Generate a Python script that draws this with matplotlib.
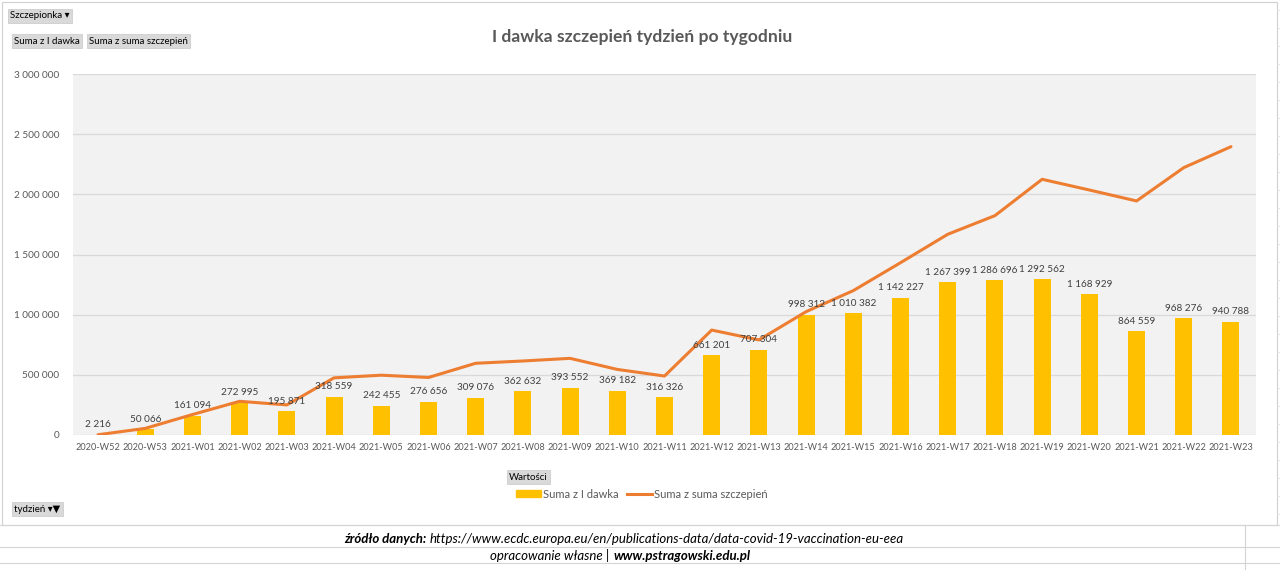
import matplotlib
matplotlib.use("Agg")
import matplotlib.pyplot as plt
from matplotlib.patches import Patch
from matplotlib.lines import Line2D
import numpy as np

plt.rcParams["font.family"] = ["Lato", "DejaVu Sans"]

weeks = ["2020-W52", "2020-W53", "2021-W01", "2021-W02", "2021-W03", "2021-W04",
         "2021-W05", "2021-W06", "2021-W07", "2021-W08", "2021-W09", "2021-W10",
         "2021-W11", "2021-W12", "2021-W13", "2021-W14", "2021-W15", "2021-W16",
         "2021-W17", "2021-W18", "2021-W19", "2021-W20", "2021-W21", "2021-W22",
         "2021-W23"]
first_dose = [2216, 50066, 161094, 272995, 195871, 318559, 242455, 276656, 309076,
              362632, 393552, 369182, 316326, 661201, 707304, 998312, 1010382,
              1142227, 1267399, 1286696, 1292562, 1168929, 864559, 968276, 940788]
# (brak etykiet)
all_doses = [2216, 55000, 170000, 280000, 250000, 475000, 497000, 478000, 596000,
             615000, 637000, 545000, 490000, 872000, 790000, 1025000, 1200000,
             1432000, 1668000, 1823000, 2125000, 2036000, 1945000, 2222000, 2396000]
yticks = [0, 500000, 1000000, 1500000, 2000000, 2500000, 3000000]

BAR = "#FFC000"
LINE = "#ED7D31"
TXT = "#595959"


def fmt(v):
    return f"{v:,}".replace(",", " ")


fig = plt.figure(figsize=(12.8, 5.7), dpi=100)

# siatka arkusza w tle
for yy in [525, 547, 563]:
    fig.add_artist(Line2D([0, 1], [1 - yy / 570] * 2, color="#D4D4D4", lw=0.8))
for xx in [1245]:
    fig.add_artist(Line2D([xx / 1280] * 2, [0, 1 - 525 / 570], color="#D4D4D4", lw=0.8))
for yy in range(10, 525, 18):
    fig.add_artist(Line2D([1277 / 1280, 1], [1 - yy / 570] * 2, color="#E2E2E2", lw=0.6))
# ramka wykresu
fig.add_artist(plt.Rectangle((2 / 1280, 1 - 525 / 570), 1275 / 1280, 523 / 570,
                             fill=True, facecolor="white", edgecolor="#D0D0D0", lw=0.8,
                             transform=fig.transFigure, zorder=0))

ax = fig.add_axes([73 / 1280, 1 - 435 / 570, (1256 - 73) / 1280, (435 - 74) / 570])
ax.set_facecolor("#F2F2F2")
x = np.arange(len(weeks))
ax.bar(x, first_dose, width=0.36, color=BAR, zorder=2)
ax.plot(x, all_doses, color=LINE, lw=2.2, zorder=3, solid_capstyle="round")
for xi, v in zip(x, first_dose):
    ax.text(xi, v + 45000, fmt(v), ha="center", va="bottom", fontsize=7.2,
            color="#404040", zorder=4)

ax.set_xlim(-0.53, len(weeks) - 0.47)
ax.set_ylim(0, 3000000)
ax.set_yticks(yticks)
ax.set_yticklabels([fmt(v) for v in yticks])
ax.set_xticks(x)
ax.set_xticklabels(weeks)
ax.tick_params(axis="both", length=0, labelsize=7.2, colors=TXT)
ax.tick_params(axis="x", labelsize=6.6, pad=6)
ax.tick_params(axis="y", pad=10)
ax.grid(axis="y", color="#D9D9D9", lw=0.9, zorder=0)
ax.set_axisbelow(True)
for s in ax.spines.values():
    s.set_visible(False)

fig.text(642 / 1280, 1 - 37 / 570, "I dawka szczepień tydzień po tygodniu", ha="center", va="center",
         fontsize=12.6, fontweight="bold", color=TXT)

# przyciski tabeli przestawnej
btn = dict(boxstyle="square,pad=0.25", facecolor="#D9D9D9", edgecolor="#C8C8C8", lw=0.5)
fig.text(10 / 1280, 1 - 16 / 570, "Szczepionka ▾", fontsize=7, va="center", bbox=btn)
fig.text(14 / 1280, 1 - 41 / 570, "Suma z I dawka", fontsize=7, va="center", bbox=btn)
fig.text(89 / 1280, 1 - 41 / 570, "Suma z suma szczepień", fontsize=7, va="center", bbox=btn)
fig.text(509 / 1280, 1 - 477 / 570, "Wartości", fontsize=7, va="center", bbox=btn)
fig.text(14 / 1280, 1 - 509 / 570, "tydzień ▾▼", fontsize=7, va="center", bbox=btn)

handles = [Patch(facecolor=BAR, edgecolor=BAR), Line2D([0], [0], color=LINE, lw=2.2)]
fig.legend(handles, ["Suma z I dawka", "Suma z suma szczepień"], loc="center",
           bbox_to_anchor=(642 / 1280, 1 - 494 / 570), ncol=2, frameon=False,
           fontsize=8, handlelength=2.2, handleheight=0.6, handletextpad=0.2,
           columnspacing=0.8, labelcolor=TXT)

# stopka
fig.text(426 / 1280, 1 - 539 / 570, "źródło danych:", ha="right", va="center", fontsize=9.5,
         fontweight="bold", style="italic", color="black")
fig.text(430 / 1280, 1 - 539 / 570,
         "https://www.ecdc.europa.eu/en/publications-data/data-covid-19-vaccination-eu-eea",
         ha="left", va="center", fontsize=9.5, style="italic", color="black")
fig.text(609 / 1280, 1 - 556 / 570, "opracowanie własne |", ha="right", va="center", fontsize=9.5,
         style="italic", color="black")
fig.text(614 / 1280, 1 - 556 / 570, "www.pstragowski.edu.pl", ha="left", va="center", fontsize=9.5,
         fontweight="bold", style="italic", color="black")

fig.savefig("out.png", dpi=100)
